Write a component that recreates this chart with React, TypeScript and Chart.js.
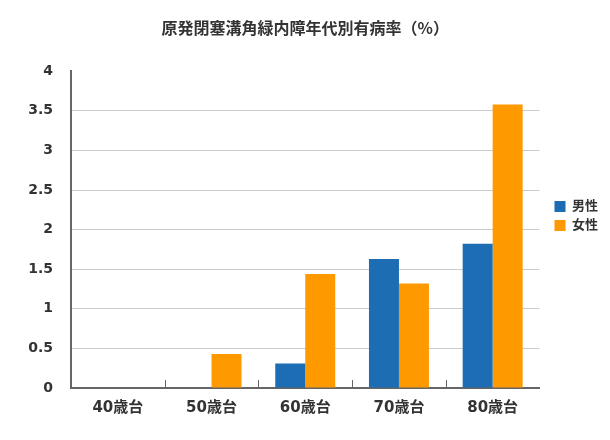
import React, { useEffect, useRef } from "react";
import { Chart, registerables } from "chart.js";

Chart.register(...registerables);

const categories = ["40歳台", "50歳台", "60歳台", "70歳台", "80歳台"];
const maleValues = [0, 0, 0.31, 1.63, 1.82];
const femaleValues = [0, 0.43, 1.44, 1.32, 3.58];
const seriesNames = ["男性", "女性"];
const titleText = "原発閉塞溝角緑内障年代別有病率（%）";

const FONT = '"DejaVu Sans", "Noto Sans CJK JP", sans-serif';
const CJK = '"Noto Sans CJK JP", sans-serif';
const TEXT = "#333333";

const innerTicks = {
  id: "innerTicks",
  afterDatasetsDraw(chart: any) {
    const x = chart.scales.x;
    const { ctx, chartArea } = chart;
    ctx.save();
    ctx.strokeStyle = "#666666";
    ctx.lineWidth = 1;
    for (let i = 1; i < categories.length; i++) {
      const px = Math.round((x.getPixelForValue(i - 1) + x.getPixelForValue(i)) / 2) + 0.5;
      ctx.beginPath();
      ctx.moveTo(px, chartArea.bottom - 8);
      ctx.lineTo(px, chartArea.bottom);
      ctx.stroke();
    }
    ctx.restore();
  },
};

const legendPlace = {
  id: "legendPlace",
  afterLayout(chart: any) {
    const l = chart.legend;
    const a = chart.chartArea;
    if (!l) return;
    const w = l.width;
    l.left = a.right + 9;
    l.right = l.left + w;
    l.top = a.top;
    l.bottom = a.bottom - 27;
  },
};

export default function App() {
  const ref = useRef<HTMLCanvasElement | null>(null);
  useEffect(() => {
    if (!ref.current) return;
    const chart = new Chart(ref.current, {
      type: "bar",
      data: {
        labels: categories,
        datasets: [
          { label: seriesNames[0], data: maleValues, backgroundColor: "#1c6db3" },
          { label: seriesNames[1], data: femaleValues, backgroundColor: "#ff9900" },
        ],
      },
      options: {
        animation: false,
        responsive: false,
        layout: { padding: { left: 0, right: 11, top: 0, bottom: 12 } },
        datasets: { bar: { categoryPercentage: 0.64, barPercentage: 1 } },
        plugins: {
          title: {
            display: true,
            fullSize: false,
            text: titleText,
            color: TEXT,
            font: { family: CJK, size: 16, weight: "bold" },
            padding: { top: 18, bottom: 34 },
          },
          legend: {
            position: "right",
            fullSize: false,
            labels: {
              boxWidth: 11,
              boxHeight: 11,
              padding: 6,
              color: TEXT,
              font: { family: FONT, size: 13, weight: "bold" },
            },
          },
          tooltip: { enabled: false },
        },
        scales: {
          x: {
            grid: { display: false, drawTicks: false },
            border: { display: true, color: "#666666", width: 2 },
            ticks: {
              color: TEXT,
              padding: 11,
              font: { family: FONT, size: 15, weight: "bold" },
            },
          },
          y: {
            min: 0,
            max: 4,
            afterFit(scale: any) {
              scale.width = 71;
            },
            ticks: {
              stepSize: 0.5,
              color: TEXT,
              padding: 18,
              font: { family: FONT, size: 14, weight: "bold" },
              callback: (v: any) => String(Number(v)),
            },
            grid: {
              drawTicks: false,
              color: (c: any) =>
                c.tick && (c.tick.value === 0 || c.tick.value === 4) ? "rgba(0,0,0,0)" : "#cccccc",
              lineWidth: 1,
            },
            border: { display: true, color: "#666666", width: 2 },
          },
        },
      },
      plugins: [innerTicks, legendPlace],
    });
    return () => chart.destroy();
  }, []);
  return (
    <div style={{ position: "fixed", left: 0, top: 0, width: 610, height: 440, background: "#fff" }}>
      <canvas ref={ref} width={610} height={440} style={{ width: 610, height: 440 }} />
    </div>
  );
}
